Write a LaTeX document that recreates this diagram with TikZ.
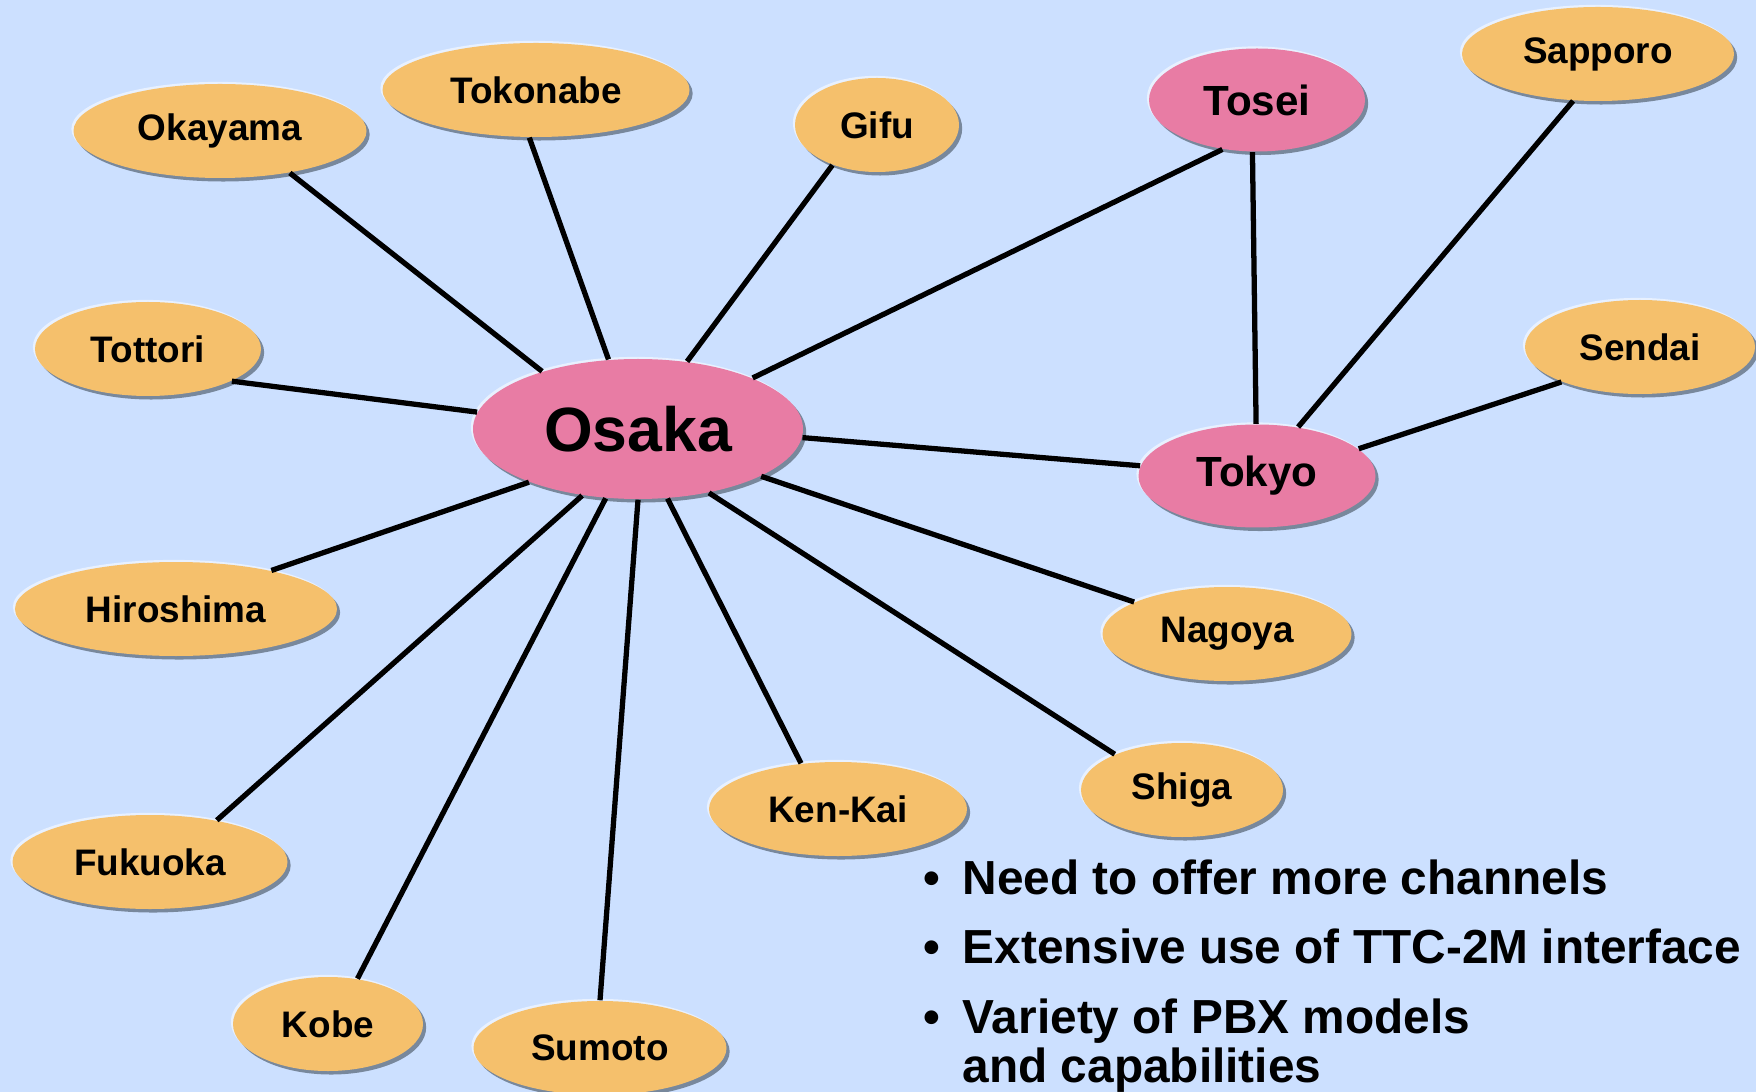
\documentclass[tikz,border=0pt]{standalone}
\usepackage{fontspec}
\setmainfont{Liberation Sans}
\usetikzlibrary{shapes.geometric,shadows}

\definecolor{bgblue}{RGB}{204,224,255}
\definecolor{cityorange}{RGB}{245,192,108}
\definecolor{hubpink}{RGB}{232,124,164}
\definecolor{rimgray}{RGB}{120,136,156}

\tikzset{
    rim/.style={general shadow={fill=rimgray, shadow xshift=0.9pt, shadow yshift=-1.0pt},
                general shadow={fill=white!55!bgblue, shadow xshift=-0.6pt, shadow yshift=0.6pt}},
    city/.style={ellipse, rim, fill=cityorange, inner sep=0pt, minimum height=0.94cm,
                 font=\fontsize{10.5}{12}\selectfont\bfseries},
    hub/.style={ellipse, rim, fill=hubpink, inner sep=0pt, minimum height=1.03cm,
                font=\fontsize{12}{14}\selectfont\bfseries},
    link/.style={draw=black, line width=1.5pt},
    item/.style={anchor=base west, inner sep=0pt, font=\fontsize{13.6}{14.2}\selectfont\bfseries}
}

\begin{document}
\begin{tikzpicture}
    	% Page:
    	\clip[use as bounding box] (0, 0) rectangle (17.56, -10.92);
    	\fill[bgblue] (0, 0) rectangle (17.56, -10.92);
    	% Nodes:
    	\node[hub, minimum width=3.30cm, minimum height=1.40cm, font=\fontsize{17.8}{20}\selectfont\bfseries] (osaka) at (6.38, -4.29) {Osaka};
    	\node[hub, minimum width=2.16cm] (tosei) at (12.57, -1.00) {Tosei};
    	\node[hub, minimum width=2.37cm] (tokyo) at (12.57, -4.76) {Tokyo};
    	\node[city, minimum width=2.72cm] (sapporo) at (15.98, -0.54) {Sapporo};
    	\node[city, minimum width=2.30cm] (sendai) at (16.40, -3.47) {Sendai};
    	\node[city, minimum width=2.93cm] (okayama) at (2.20, -1.31) {Okayama};
    	\node[city, minimum width=3.07cm] (tokonabe) at (5.36, -0.90) {Tokonabe};
    	\node[city, minimum width=1.64cm] (gifu) at (8.77, -1.25) {Gifu};
    	\node[city, minimum width=2.26cm] (tottori) at (1.48, -3.49) {Tottori};
    	\node[city, minimum width=3.22cm] (hiroshima) at (1.76, -6.09) {Hiroshima};
    	\node[city, minimum width=2.75cm] (fukuoka) at (1.50, -8.62) {Fukuoka};
    	\node[city, minimum width=1.90cm] (kobe) at (3.28, -10.24) {Kobe};
    	\node[city, minimum width=2.53cm] (sumoto) at (6.00, -10.48) {Sumoto};
    	\node[city, minimum width=2.58cm] (kenkai) at (8.38, -8.09) {Ken-Kai};
    	\node[city, minimum width=2.02cm] (shiga) at (11.82, -7.90) {Shiga};
    	\node[city, minimum width=2.49cm] (nagoya) at (12.27, -6.34) {Nagoya};
    	% Links:
    	\draw[link] (osaka.149) -- (okayama.-31);
    	\draw[link] (osaka.113) -- (tokonabe.262);
    	\draw[link] (osaka.54) -- (gifu.222);
    	\draw[link] (osaka.174) -- (tottori.-21);
    	\draw[link] (osaka.206) -- (hiroshima.22);
    	\draw[link] (osaka.230) -- (fukuoka.32);
    	\draw[link] (osaka.245) -- (kobe.57);
    	\draw[link] (osaka.270) -- (sumoto.90);
    	\draw[link] (osaka.-67) -- (kenkai.129);
    	\draw[link] (osaka.-42) -- (shiga.152);
    	\draw[link] (osaka.-21) -- (nagoya.161);
    	\draw[link] (osaka.-3) -- (tokyo.175);
    	\draw[link] (osaka.24) -- (tosei.235);
    	\draw[link] (tosei.265) -- (tokyo.91);
    	\draw[link] (tokyo.50) -- (sapporo.242);
    	\draw[link] (tokyo.15) -- (sendai.204);
    	% Bullets:
    	\node[item] (need) at (9.62, -8.94) {\llap{•\hspace{0.226cm}}Need to offer more channels};
    	\node[item] (ttc) at (9.62, -9.63) {\llap{•\hspace{0.226cm}}Extensive use of TTC-2M interface};
    	\node[item] (pbx) at (9.62, -10.33) {\llap{•\hspace{0.226cm}}\vtop{\baselineskip=14.2pt\hbox{Variety of PBX models}\hbox{and capabilities}}};
    \end{tikzpicture}
\end{document}
